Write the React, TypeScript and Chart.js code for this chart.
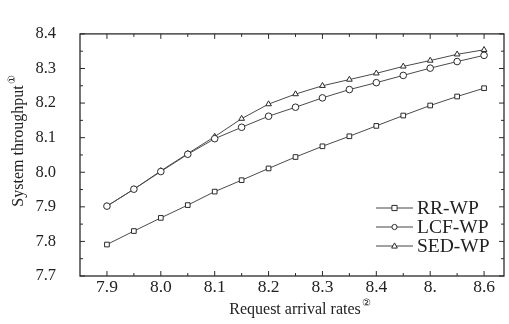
import React, { useEffect, useRef } from "react";
import { Chart, registerables } from "chart.js";

Chart.register(...registerables);

const xValues = [7.9, 7.95, 8.0, 8.05, 8.1, 8.15, 8.2, 8.25, 8.3, 8.35, 8.4, 8.45, 8.5, 8.55, 8.6];
const rrWP = [7.791, 7.83, 7.868, 7.905, 7.944, 7.977, 8.011, 8.044, 8.075, 8.104, 8.134, 8.164, 8.193, 8.219, 8.243];
const lcfWP = [7.902, 7.951, 8.002, 8.052, 8.097, 8.13, 8.162, 8.188, 8.215, 8.239, 8.259, 8.28, 8.301, 8.32, 8.338];
const sedWP = [7.902, 7.951, 8.004, 8.054, 8.103, 8.155, 8.197, 8.226, 8.25, 8.268, 8.286, 8.306, 8.323, 8.341, 8.354];

const xTickValues = [7.9, 8.0, 8.1, 8.2, 8.3, 8.4, 8.5, 8.6];
const xTickLabels = ["7.9", "8.0", "8.1", "8.2", "8.3", "8.4", "8.", "8.6"];
const yTickValues = [7.7, 7.8, 7.9, 8.0, 8.1, 8.2, 8.3, 8.4];
const yTickLabels = ["7.7", "7.8", "7.9", "8.0", "8.1", "8.2", "8.3", "8.4"];

const seriesNames = ["RR-WP", "LCF-WP", "SED-WP"];
const pointStyles = ["rect", "circle", "triangle"];

const FONT = "'Liberation Serif', 'Times New Roman', serif";
const INK = "#2a2a2a";

function drawMarker(ctx: CanvasRenderingContext2D, style: string, x: number, y: number, r: number) {
  ctx.beginPath();
  if (style === "rect") {
    ctx.rect(x - r, y - r, 2 * r, 2 * r);
  } else if (style === "circle") {
    ctx.arc(x, y, r, 0, Math.PI * 2);
  } else {
    ctx.moveTo(x, y - r * 1.2);
    ctx.lineTo(x + r * 1.1, y + r * 0.8);
    ctx.lineTo(x - r * 1.1, y + r * 0.8);
    ctx.closePath();
  }
  ctx.fillStyle = "#fff";
  ctx.fill();
  ctx.stroke();
}

const framePlugin = {
  id: "frame",
  afterDraw(chart: any) {
    const { ctx, chartArea } = chart;
    const xs = chart.scales.x;
    const ys = chart.scales.y;
    const { left, right, top, bottom } = chartArea;
    ctx.save();
    ctx.strokeStyle = INK;
    ctx.lineWidth = 1.3;
    ctx.strokeRect(left, top, right - left, bottom - top);
    ctx.lineWidth = 1;
    for (let i = 0; i <= 14; i++) {
      const v = 7.9 + i * 0.05;
      const px = xs.getPixelForValue(v);
      const len = i % 2 === 0 ? 5 : 3;
      ctx.beginPath();
      ctx.moveTo(px, bottom);
      ctx.lineTo(px, bottom - len);
      ctx.moveTo(px, top);
      ctx.lineTo(px, top + len);
      ctx.stroke();
    }
    for (let i = 0; i <= 14; i++) {
      const v = 7.7 + i * 0.05;
      const py = ys.getPixelForValue(v);
      const len = i % 2 === 0 ? 5 : 3;
      ctx.beginPath();
      ctx.moveTo(left, py);
      ctx.lineTo(left + len, py);
      ctx.moveTo(right, py);
      ctx.lineTo(right - len, py);
      ctx.stroke();
    }

    ctx.fillStyle = "#222";
    ctx.font = `16px ${FONT}`;
    ctx.textBaseline = "middle";
    const xt = "Request arrival rates";
    const w = ctx.measureText(xt).width;
    const cx = 295;
    ctx.textAlign = "left";
    ctx.fillText(xt, cx - w / 2, 310);
    ctx.font = `10px ${FONT}`;
    ctx.fillText("②", cx + w / 2 + 1, 303);
    ctx.save();
    ctx.translate(19, 146);
    ctx.rotate(-Math.PI / 2);
    ctx.font = `16px ${FONT}`;
    const yt = "System throughput";
    const wy = ctx.measureText(yt).width;
    ctx.fillText(yt, -wy / 2, 0);
    ctx.font = `10px ${FONT}`;
    ctx.fillText("①", wy / 2 + 1, -7);
    ctx.restore();

    const rows = [208, 227, 246];
    ctx.font = `19.5px ${FONT}`;
    ctx.textAlign = "left";
    chart.data.datasets.forEach((ds: any, i: number) => {
      const y = rows[i];
      ctx.strokeStyle = "#444";
      ctx.beginPath();
      ctx.moveTo(376, y);
      ctx.lineTo(413, y);
      ctx.stroke();
      ctx.strokeStyle = INK;
      drawMarker(ctx, pointStyles[i], 394.5, y, 2.6);
      ctx.fillStyle = "#222";
      ctx.fillText(ds.label, 417, y + 1);
    });
    ctx.restore();
  },
};

export default function App() {
  const ref = useRef<HTMLCanvasElement>(null);
  useEffect(() => {
    const mk = (label: string, data: number[], ps: string) => ({
      label,
      data: xValues.map((x, i) => ({ x, y: data[i] })),
      borderColor: "#4a4a4a",
      borderWidth: 1,
      pointStyle: ps,
      pointRadius: 3.3,
      pointBorderColor: INK,
      pointBorderWidth: 1,
      pointBackgroundColor: "#fff",
      fill: false,
      tension: 0,
    });
    const chart = new Chart(ref.current as HTMLCanvasElement, {
      type: "line",
      data: {
        datasets: [
          mk(seriesNames[0], rrWP, pointStyles[0]),
          mk(seriesNames[1], lcfWP, pointStyles[1]),
          mk(seriesNames[2], sedWP, pointStyles[2]),
        ],
      },
      options: {
        animation: false,
        responsive: false,
        devicePixelRatio: 1,
        layout: { padding: { top: 12, right: 1, left: 0, bottom: 0 } },
        plugins: { legend: { display: false }, tooltip: { enabled: false } },
        scales: {
          x: {
            type: "linear",
            min: 7.85,
            max: 8.637,
            grid: { display: false, drawTicks: false },
            border: { display: false },
            afterBuildTicks: (s: any) => {
              s.ticks = xTickValues.map((v) => ({ value: v }));
            },
            afterFit: (s: any) => {
              s.height = 48;
            },
            ticks: {
              padding: 1,
              color: "#222",
              font: { family: FONT, size: 17.5 },
              maxRotation: 0,
              autoSkip: false,
              callback: (v: any) => {
                const i = xTickValues.findIndex((t) => Math.abs(t - Number(v)) < 1e-6);
                return i >= 0 ? xTickLabels[i] : "";
              },
            },
          },
          y: {
            type: "linear",
            min: 7.7,
            max: 8.4,
            grid: { display: false, drawTicks: false },
            border: { display: false },
            afterBuildTicks: (s: any) => {
              s.ticks = yTickValues.map((v) => ({ value: v }));
            },
            afterFit: (s: any) => {
              s.width = 80;
            },
            ticks: {
              padding: 24,
              color: "#222",
              font: { family: FONT, size: 16.5 },
              autoSkip: false,
              callback: (v: any) => {
                const i = yTickValues.findIndex((t) => Math.abs(t - Number(v)) < 1e-6);
                return i >= 0 ? yTickLabels[i] : "";
              },
            },
          },
        },
      },
      plugins: [framePlugin],
    } as any);
    return () => chart.destroy();
  }, []);
  return (
    <div style={{ position: "fixed", left: 0, top: 0, width: 509, height: 324, background: "#fff" }}>
      <canvas ref={ref} width={509} height={324} style={{ display: "block", width: 509, height: 324 }} />
    </div>
  );
}
